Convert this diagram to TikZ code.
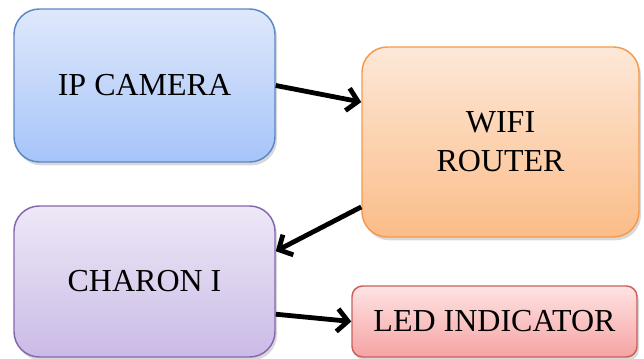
\documentclass[tikz,border=0pt]{standalone}
\usepackage{fontspec}
\setmainfont{Liberation Serif}
\usetikzlibrary{arrows.meta,shadows}
\definecolor{camtop}{HTML}{DFE8FB}
\definecolor{cambot}{HTML}{A6C4F9}
\definecolor{camline}{HTML}{5A87C5}
\definecolor{routop}{HTML}{FDE8D8}
\definecolor{roubot}{HTML}{FBBC88}
\definecolor{rouline}{HTML}{F59A4C}
\definecolor{chatop}{HTML}{EEE8F7}
\definecolor{chabot}{HTML}{CABBE6}
\definecolor{chaline}{HTML}{8566AE}
\definecolor{ledtop}{HTML}{FFE3E3}
\definecolor{ledbot}{HTML}{F5A3A3}
\definecolor{ledline}{HTML}{C9605C}

\begin{document}
\begin{tikzpicture}[x=0.75pt,y=0.75pt,
	box/.style={draw,line width=1.1pt,rounded corners=19pt,align=center,
		font=\fontsize{24}{29}\selectfont,
		drop shadow={opacity=0.3,shadow xshift=1.5pt,shadow yshift=-2.5pt}},
	link/.style={line width=3.6pt,-{Straight Barb[length=8pt,width=17pt]}}]
\useasboundingbox (0,0) rectangle (644,358);
% blocks
\node [box,draw=camline,top color=camtop,bottom color=cambot,
	minimum width=195.75pt,minimum height=114.75pt] (cam) at (144.5,272.5) {IP CAMERA};
\node [box,draw=rouline,top color=routop,bottom color=roubot,
	minimum width=207.75pt,minimum height=142.5pt] (router) at (500.5,216) {WIFI\\ROUTER};
\node [box,draw=chaline,top color=chatop,bottom color=chabot,
	minimum width=195.75pt,minimum height=113.25pt] (charon) at (144.5,76.5) {CHARON I};
\node [box,rounded corners=8pt,draw=ledline,top color=ledtop,bottom color=ledbot,
	minimum width=213.75pt,minimum height=53.25pt] (led) at (494.5,36.5) {LED INDICATOR};
% links
\draw [link] (cam.east) -- (router.164);
\draw [link] (router.205) -- (charon.13);
\draw [link] (charon.-14) -- (led.west);
\end{tikzpicture}
\end{document}
